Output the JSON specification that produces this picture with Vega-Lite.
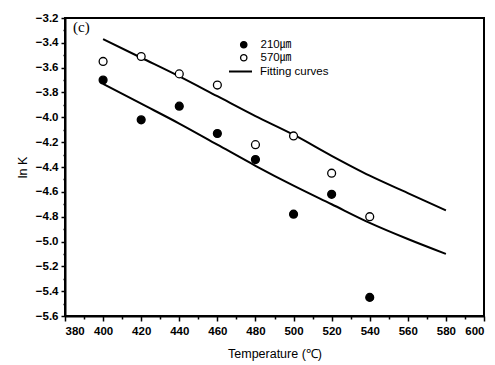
{
  "$schema": "https://vega.github.io/schema/vega-lite/v6.json",
  "autosize": "none",
  "width": 419,
  "height": 298,
  "padding": {"left": 65, "top": 18, "right": 11, "bottom": 49},
  "background": "white",
  "config": {
    "view": {"stroke": "black", "strokeWidth": 2},
    "font": "Liberation Sans",
    "axis": {
      "domainColor": "black",
      "domainWidth": 2,
      "tickColor": "black",
      "tickWidth": 1.5,
      "grid": false,
      "labelFont": "Liberation Sans",
      "labelFontWeight": "bold",
      "labelFontSize": 11.5,
      "labelColor": "black",
      "titleFont": "Liberation Sans",
      "titleFontWeight": "normal",
      "titleFontSize": 12.5,
      "titleColor": "black"
    }
  },
  "title": {
    "text": "(c)",
    "anchor": "start",
    "frame": "group",
    "orient": "top",
    "baseline": "top",
    "offset": 0,
    "dx": 8,
    "dy": 23,
    "font": "Liberation Serif",
    "fontSize": 15,
    "fontWeight": "normal",
    "color": "black"
  },
  "datasets": {
    "points": [
      {"temp": 400, "lnK": -3.70, "series": "210㎛"},
      {"temp": 420, "lnK": -4.02, "series": "210㎛"},
      {"temp": 440, "lnK": -3.91, "series": "210㎛"},
      {"temp": 460, "lnK": -4.13, "series": "210㎛"},
      {"temp": 480, "lnK": -4.34, "series": "210㎛"},
      {"temp": 500, "lnK": -4.78, "series": "210㎛"},
      {"temp": 520, "lnK": -4.62, "series": "210㎛"},
      {"temp": 540, "lnK": -5.45, "series": "210㎛"},
      {"temp": 400, "lnK": -3.55, "series": "570㎛"},
      {"temp": 420, "lnK": -3.51, "series": "570㎛"},
      {"temp": 440, "lnK": -3.65, "series": "570㎛"},
      {"temp": 460, "lnK": -3.74, "series": "570㎛"},
      {"temp": 480, "lnK": -4.22, "series": "570㎛"},
      {"temp": 500, "lnK": -4.15, "series": "570㎛"},
      {"temp": 520, "lnK": -4.45, "series": "570㎛"},
      {"temp": 540, "lnK": -4.80, "series": "570㎛"}
    ],
    "curves": [
      {"temp": 400, "lnK": -3.37, "curve": "upper", "kind": "Fitting curves"},
      {"temp": 420, "lnK": -3.52, "curve": "upper", "kind": "Fitting curves"},
      {"temp": 440, "lnK": -3.67, "curve": "upper", "kind": "Fitting curves"},
      {"temp": 460, "lnK": -3.83, "curve": "upper", "kind": "Fitting curves"},
      {"temp": 480, "lnK": -3.99, "curve": "upper", "kind": "Fitting curves"},
      {"temp": 500, "lnK": -4.14, "curve": "upper", "kind": "Fitting curves"},
      {"temp": 520, "lnK": -4.31, "curve": "upper", "kind": "Fitting curves"},
      {"temp": 540, "lnK": -4.47, "curve": "upper", "kind": "Fitting curves"},
      {"temp": 560, "lnK": -4.61, "curve": "upper", "kind": "Fitting curves"},
      {"temp": 580, "lnK": -4.75, "curve": "upper", "kind": "Fitting curves"},
      {"temp": 400, "lnK": -3.73, "curve": "lower", "kind": "Fitting curves"},
      {"temp": 420, "lnK": -3.89, "curve": "lower", "kind": "Fitting curves"},
      {"temp": 440, "lnK": -4.05, "curve": "lower", "kind": "Fitting curves"},
      {"temp": 460, "lnK": -4.22, "curve": "lower", "kind": "Fitting curves"},
      {"temp": 480, "lnK": -4.39, "curve": "lower", "kind": "Fitting curves"},
      {"temp": 500, "lnK": -4.55, "curve": "lower", "kind": "Fitting curves"},
      {"temp": 520, "lnK": -4.70, "curve": "lower", "kind": "Fitting curves"},
      {"temp": 540, "lnK": -4.85, "curve": "lower", "kind": "Fitting curves"},
      {"temp": 560, "lnK": -4.98, "curve": "lower", "kind": "Fitting curves"},
      {"temp": 580, "lnK": -5.10, "curve": "lower", "kind": "Fitting curves"}
    ]
  },
  "encoding": {
    "x": {
      "field": "temp",
      "type": "quantitative",
      "scale": {"domain": [380, 600], "nice": false, "zero": false},
      "axis": {
        "title": "Temperature (℃)",
        "values": [380, 390, 400, 410, 420, 430, 440, 450, 460, 470, 480, 490, 500, 510, 520, 530, 540, 550, 560, 570, 580, 590, 600],
        "labelExpr": "datum.value % 20 == 0 ? datum.label : ''",
        "tickSize": {"condition": {"test": "datum.value % 20 == 0", "value": 5}, "value": 3},
        "labelPadding": 4,
        "titlePadding": 11
      }
    },
    "y": {
      "field": "lnK",
      "type": "quantitative",
      "scale": {"domain": [-5.6, -3.2], "nice": false, "zero": false},
      "axis": {
        "title": "ln K",
        "values": [-5.6, -5.5, -5.4, -5.3, -5.2, -5.1, -5.0, -4.9, -4.8, -4.7, -4.6, -4.5, -4.4, -4.3, -4.2, -4.1, -4.0, -3.9, -3.8, -3.7, -3.6, -3.5, -3.4, -3.3, -3.2],
        "format": ".1f",
        "labelExpr": "abs(round(datum.value * 10)) % 2 == 0 ? datum.label : ''",
        "tickSize": {"condition": {"test": "abs(round(datum.value * 10)) % 2 == 0", "value": 4}, "value": 2},
        "labelPadding": 3,
        "titlePadding": 6
      }
    }
  },
  "layer": [
    {
      "data": {"name": "curves"},
      "mark": {"type": "line", "strokeWidth": 2, "interpolate": "monotone"},
      "encoding": {
        "detail": {"field": "curve"},
        "stroke": {
          "field": "kind",
          "type": "nominal",
          "scale": {"range": ["black"]},
          "legend": {
            "title": null,
            "orient": "none",
            "legendX": 163,
            "legendY": 41,
            "symbolType": "stroke",
            "symbolSize": 529,
            "symbolStrokeWidth": 2,
            "labelFont": "Liberation Sans",
            "labelFontSize": 11.5,
            "labelColor": "black",
            "labelOffset": 7,
            "padding": 0
          }
        }
      }
    },
    {
      "data": {"name": "points"},
      "mark": {"type": "point", "shape": "circle", "size": 62, "stroke": "black", "strokeWidth": 1.3, "filled": false, "opacity": 1},
      "encoding": {
        "fill": {
          "field": "series",
          "type": "nominal",
          "scale": {"domain": ["210㎛", "570㎛"], "range": ["black", "white"]},
          "legend": {
            "title": null,
            "orient": "none",
            "legendX": 173,
            "legendY": 21,
            "symbolType": "circle",
            "symbolSize": 40,
            "symbolStrokeColor": "black",
            "symbolStrokeWidth": 1.3,
            "labelFont": "Liberation Sans, Noto Sans CJK KR",
            "labelFontSize": 11.5,
            "labelColor": "black",
            "labelOffset": 11,
            "rowPadding": 0,
            "padding": 0
          }
        }
      }
    }
  ]
}
